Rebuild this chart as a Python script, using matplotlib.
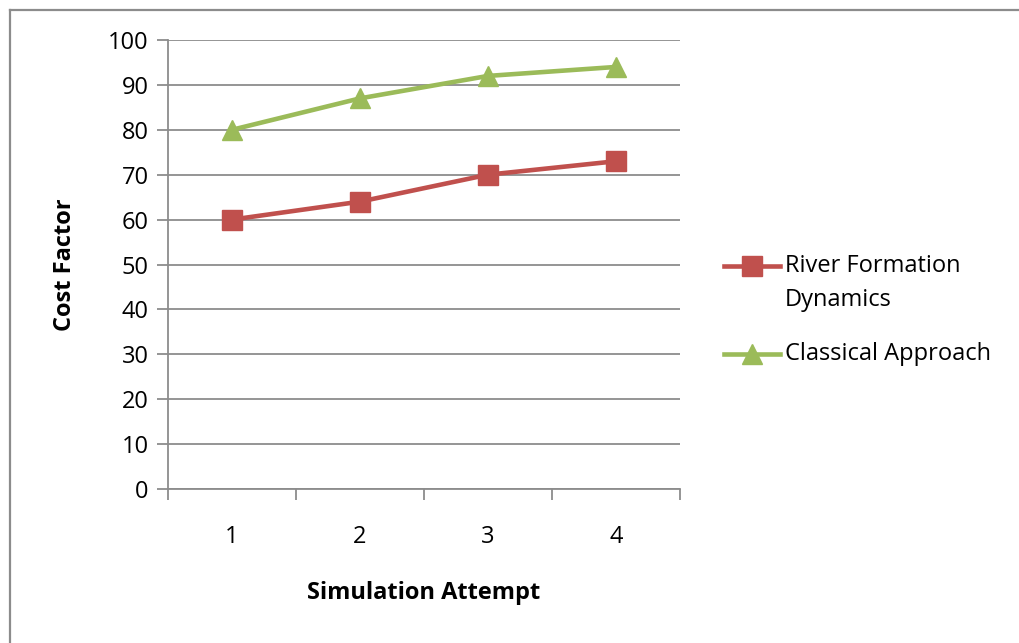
import matplotlib
matplotlib.use("Agg")
import matplotlib.pyplot as plt
from matplotlib.lines import Line2D

categories = ["1", "2", "3", "4"]
rfd_values = [60, 64, 70, 73]
classical_values = [80, 87, 92, 94]
series_labels = ["River Formation\nDynamics", "Classical Approach"]
y_ticks = [0, 10, 20, 30, 40, 50, 60, 70, 80, 90, 100]

plt.rcParams['font.family'] = ['Open Sans', 'DejaVu Sans']
FS = 17
W, H = 1019, 643
fig = plt.figure(figsize=(W / 100, H / 100), dpi=100)
GRAY = "#8c8c8c"

# outer chart border (top & left visible)
fig.add_artist(Line2D([9.5 / W, 1.0], [1 - 9.5 / H, 1 - 9.5 / H], transform=fig.transFigure,
                      color=GRAY, lw=1.6))
fig.add_artist(Line2D([9.5 / W, 9.5 / W], [0.0, 1 - 9.5 / H], transform=fig.transFigure,
                      color=GRAY, lw=1.6))

left, right, top, bottom = 168, 680, 40, 489
ax = fig.add_axes([left / W, 1 - bottom / H, (right - left) / W, (bottom - top) / H])

x = list(range(1, len(categories) + 1))
red = "#C0504D"
green = "#9BBB59"
styles = [dict(color=red, marker="s", markersize=14), dict(color=green, marker="^", markersize=15)]
ax.plot(x, rfd_values, lw=3.3, solid_capstyle="round", **styles[0])
ax.plot(x, classical_values, lw=3.3, solid_capstyle="round", **styles[1])

ax.set_ylim(0, 100)
ax.set_xlim(0.5, len(categories) + 0.5)
ax.set_yticks(y_ticks)
ax.yaxis.grid(True, color=GRAY, lw=1.3)
ax.set_axisbelow(True)

ax.set_xticks(x)
ax.set_xticklabels(categories)
ax.set_xticks([i + 0.5 for i in range(len(categories) + 1)], minor=True)
ax.tick_params(axis="x", which="major", length=0, pad=26, labelsize=FS, colors="black")
ax.tick_params(axis="x", which="minor", length=8, width=1.3, color=GRAY, direction="out")
ax.tick_params(axis="y", length=8, width=1.3, color=GRAY, direction="out", pad=6,
               labelsize=FS, labelcolor="black")

for s in ["top", "right"]:
    ax.spines[s].set_visible(False)
for s in ["left", "bottom"]:
    ax.spines[s].set_color(GRAY)
    ax.spines[s].set_linewidth(1.3)

ax.set_ylabel("Cost Factor", fontsize=FS, fontweight="bold")
ax.yaxis.label.set_va("center")
ax.yaxis.set_label_coords((65 - left) / (right - left), 0.5)
ax.set_xlabel("Simulation Attempt", fontsize=FS, fontweight="bold")
ax.xaxis.label.set_va("center")
ax.xaxis.set_label_coords(0.5, -(593 - bottom) / (bottom - top))

# legend (handle aligned with first line of each label, as in the reference)
leg_rows = [266, 354]
for st, lab, yy in zip(styles, series_labels, leg_rows):
    yf = 1 - yy / H
    fig.add_artist(Line2D([724 / W, 780 / W], [yf, yf], transform=fig.transFigure,
                          color=st["color"], lw=3.3))
    fig.add_artist(Line2D([752 / W], [yf], transform=fig.transFigure, color=st["color"],
                          marker=st["marker"], markersize=st["markersize"], lw=0))
    for k, line in enumerate(lab.split("\n")):
        fig.text(785 / W, 1 - (yy + 34 * k) / H, line, fontsize=FS, va="center", ha="left")

fig.savefig("out.png", dpi=100, facecolor="white")
